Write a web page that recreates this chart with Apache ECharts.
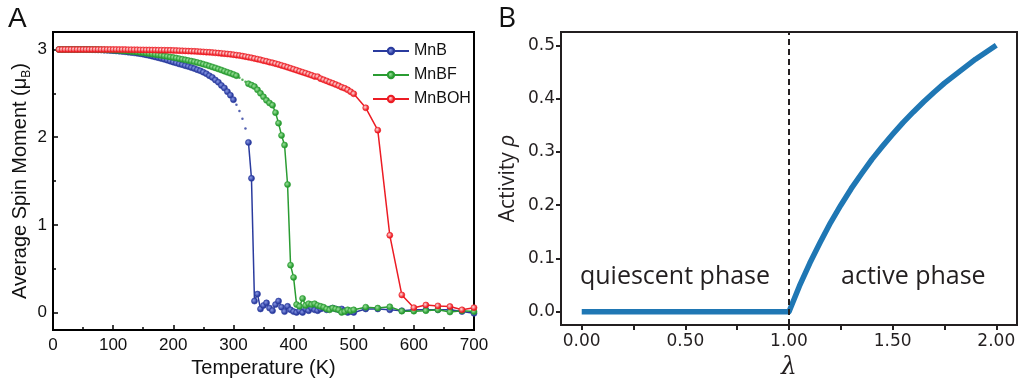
<!DOCTYPE html>
<html><head><meta charset="utf-8">
<script src="https://cdn.jsdelivr.net/npm/echarts@6/dist/echarts.min.js"></script>
<style>html,body{margin:0;padding:0;background:#fff}#c{width:1019px;height:385px}</style>
</head><body><div id="c"></div>
<script>
// ---------- Panel A data ----------
const temperatures = [
 10,15,20,25,30,35,40,45,50,55,60,65,70,75,80,85,90,95,100,105,110,115,120,125,130,135,140,145,150,155,
 160,165,170,175,180,185,190,195,200,205,210,215,220,225,230,235,240,245,250,255,260,265,270,275,280,285,
 290,295,300,305,310,315,320,325,330,335,340,345,350,355,360,365,370,375,380,385,390,395,400,405,410,415,
 420,425,430,435,440,445,450,455,460,465,470,475,480,485,490,495,500,
 520,540,560,580,600,620,640,660,680,700];
const mnB = [
 3.000,3.000,3.000,3.000,3.000,3.000,3.000,3.000,3.000,3.000,
 2.999,2.998,2.997,2.996,2.995,2.993,2.991,2.989,2.987,2.984,
 2.981,2.978,2.974,2.970,2.966,2.962,2.957,2.952,2.946,2.939,
 2.932,2.924,2.915,2.906,2.897,2.888,2.878,2.867,2.856,2.846,
 2.835,2.826,2.815,2.806,2.794,2.783,2.769,2.757,2.741,2.724,
 2.701,2.682,2.652,2.626,2.591,2.561,2.519,2.478,2.428,
 2.37,2.30,2.21,2.10,
 1.94,1.53,0.13,0.21,0.04,0.08,0.11,0.05,0.02,0.09,
 0.13,0.06,0.01,0.07,0.03,0.01,0.00,0.02,0.00,0.04,
 0.02,0.05,0.03,0.02,0.04,0.05,0.03,0.04,0.05,0.04,
 0.03,0.04,0.02,0.00,0.01,0.00,
 0.04,0.04,0.03,0.02,0.03,0.03,0.03,0.03,0.01,-0.01];
const mnBF = [
 3.000,3.000,3.000,3.000,3.000,3.000,3.000,3.000,3.000,3.000,3.000,3.000,3.000,
 2.999,2.998,2.997,2.996,2.995,2.993,2.991,2.989,2.987,2.984,
 2.981,2.978,2.975,2.971,2.967,2.963,2.958,2.953,2.948,2.943,
 2.938,2.933,2.927,2.921,2.915,2.909,2.903,2.896,2.889,2.882,
 2.875,2.868,2.860,2.852,2.843,2.833,2.823,2.812,2.801,2.790,
 2.778,2.766,2.753,2.740,2.728,2.716,
 2.702,2.678,2.655,2.632,
 2.610,2.594,2.577,2.540,2.500,2.460,2.420,2.390,2.365,2.280,
 2.160,2.020,1.910,1.460,0.540,0.400,0.090,0.070,0.160,0.080,
 0.100,0.090,0.100,0.080,0.070,0.060,0.040,0.030,0.050,0.040,
 0.030,0.000,0.010,0.030,0.020,0.030,
 0.060,0.050,0.065,0.015,0.015,0.020,0.030,0.005,0.020,0.010];
const mnBOH = [
 3.000,3.000,3.000,3.000,3.000,3.000,3.000,3.000,3.000,3.000,
 3.000,3.000,3.000,3.000,3.000,3.000,3.000,3.000,3.000,
 3.000,2.999,2.999,2.999,2.998,2.998,2.997,2.997,2.996,2.996,
 2.995,2.995,2.994,2.994,2.993,2.993,2.992,2.991,2.991,
 2.990,2.988,2.987,2.985,2.984,2.982,2.981,2.979,2.977,2.975,
 2.973,2.970,2.968,2.965,2.962,2.959,2.956,2.953,2.949,2.945,
 2.941,2.936,2.931,2.925,2.919,2.912,2.905,2.897,2.890,2.882,
 2.873,2.865,2.856,2.848,2.839,2.829,2.819,2.808,2.797,2.786,
 2.775,2.764,2.752,2.741,2.730,2.718,2.706,2.693,2.690,2.668,
 2.655,2.642,2.628,2.615,2.601,2.587,2.570,2.558,2.540,2.518,
 2.495,
 2.335,2.080,0.880,0.200,0.055,0.085,0.075,0.068,0.030,0.055];
const seriesNamesA = ['MnB','MnBF','MnBOH'];
const tempTicksA = [0,100,200,300,400,500,600,700];
const momentTicks = [0,1,2,3];
const momentMinorTicks = [0.5,1.5,2.5];

// ---------- Panel B data ----------
const lambdaVals = [0.00,1.00,1.05,1.10,1.15,1.20,1.25,1.30,1.35,1.40,1.45,1.50,1.55,1.60,1.65,1.70,1.75,1.80,1.85,1.90,1.95,2.00];
const rhoVals    = [0.000,0.000,0.048,0.091,0.130,0.167,0.200,0.231,0.259,0.286,0.310,0.333,0.355,0.375,0.394,0.412,0.429,0.444,0.459,0.474,0.487,0.500];
const lambdaTicks = [0,0.25,0.5,0.75,1,1.25,1.5,1.75,2];
const lambdaLabels = [0,0.5,1,1.5,2];
const rhoTicks = [0,0.1,0.2,0.3,0.4,0.5];
const criticalLambda = 1;
const phaseLabels = ['quiescent phase','active phase'];
const phaseLabelPos = [[0.45,0.066],[1.60,0.066]];

// ---------- build ----------
const colorsA = {MnB:'#2a3b9e', MnBF:'#2a9c32', MnBOH:'#ec1c24'};
const lightA = {MnB:'#8898e6', MnBF:'#9be29b', MnBOH:'#ffe0e0'};
const dotRange = {MnB:[302,322], MnBF:[307,322], MnBOH:[0,0]};
const valsA = {MnB:mnB, MnBF:mnBF, MnBOH:mnBOH};
function ball(name){
  return {type:'radial', x:0.4, y:0.4, r:0.6, colorStops:[{offset:0,color:lightA[name]},{offset:0.75,color:colorsA[name]},{offset:1,color:colorsA[name]}]};
}
const seriesA = [];
seriesNamesA.forEach(n=>{
  const r = dotRange[n];
  const lineData = temperatures.map((t,i)=> (t>=r[0]&&t<=r[1]) ? [t,'-'] : [t, valsA[n][i]]);
  const dotData = temperatures.map((t,i)=> [t, valsA[n][i]]).filter(p=>p[0]>=r[0]&&p[0]<=r[1]);
  seriesA.push({
    name:n, type:'line', xAxisIndex:0, yAxisIndex:0, data:lineData, connectNulls:false,
    symbol:'circle', symbolSize:6, showAllSymbol:true,
    lineStyle:{color:colorsA[n], width:1.5},
    itemStyle:{color:ball(n), borderColor:colorsA[n], borderWidth:0.6},
    animation:false
  });
  if(dotData.length){
    seriesA.push({
      name:n, type:'scatter', xAxisIndex:0, yAxisIndex:0, data:dotData,
      symbol:'circle', symbolSize:2.5, itemStyle:{color:colorsA[n]}, animation:false
    });
  }
});

const dark = '#231f20';
const option = {
  animation:false,
  graphic:[
    {type:'text', left:8, top:5, style:{text:'A', font:'28px "Liberation Sans", Arial', fill:'#111'}},
    {type:'text', left:498, top:5, style:{text:'B', font:'28px "Open Sans", "Noto Sans"', fill:'#111'}}
  ],
  legend:{
    data:seriesNamesA, orient:'vertical', left:367, top:38, itemWidth:36, itemHeight:8, itemGap:8,
    selectedMode:false, textStyle:{fontSize:16, fontFamily:'"Liberation Sans", Arial', color:'#111'}
  },
  grid:[
    {left:53, top:32, width:421, height:298, show:true, borderColor:'#000', borderWidth:2, backgroundColor:'transparent'},
    {left:561, top:32, width:456, height:297, show:true, borderColor:dark, borderWidth:2, backgroundColor:'transparent'}
  ],
  xAxis:[
    {gridIndex:0, type:'value', min:0, max:700, interval:100,
     axisLine:{show:true, onZero:false, lineStyle:{color:'#000', width:2}},
     axisTick:{show:true, inside:true, length:5, lineStyle:{color:'#000', width:1.5}},
     minorTick:{show:true, splitNumber:2, length:3, lineStyle:{color:'#000', width:1.5}},
     splitLine:{show:false},
     axisLabel:{fontSize:17, fontFamily:'"Liberation Sans", Arial', color:'#111', margin:7,
       customValues:tempTicksA},
     name:'Temperature (K)', nameLocation:'middle', nameGap:27,
     nameTextStyle:{fontSize:20, fontFamily:'"Liberation Sans", Arial', color:'#111'}},
    {gridIndex:1, type:'value', min:-0.1, max:2.1,
     axisLine:{show:true, onZero:false, lineStyle:{color:dark, width:2}},
     axisTick:{show:true, inside:false, length:5, lineStyle:{color:dark, width:2}, customValues:lambdaTicks},
     splitLine:{show:false},
     axisLabel:{fontSize:17, fontFamily:'"DejaVu Sans"', color:dark, margin:8,
       customValues:lambdaLabels, formatter:v=>Number(v).toFixed(2)},
     name:'λ', nameLocation:'middle', nameGap:27,
     nameTextStyle:{fontSize:25, fontFamily:'"DejaVu Serif", "Open Sans"', fontStyle:'italic', color:dark}}
  ],
  yAxis:[
    {gridIndex:0, type:'value', min:-0.2, max:3.2,
     axisLine:{show:true, onZero:false, lineStyle:{color:'#000', width:2}},
     axisTick:{show:true, inside:true, length:5, lineStyle:{color:'#000', width:1.5}, customValues:momentTicks},
     splitLine:{show:false},
     axisLabel:{fontSize:17, fontFamily:'"Liberation Sans", Arial', color:'#111', margin:6, customValues:momentTicks},
     name:'Average Spin Moment (μ{sub|B})', nameLocation:'middle', nameGap:20,
     nameTextStyle:{fontSize:20, lineHeight:26, fontFamily:'"Liberation Sans", Arial', color:'#111',
       rich:{sub:{fontSize:12, lineHeight:12, verticalAlign:'bottom', fontFamily:'"Liberation Sans", Arial', color:'#111'}}}},
    {gridIndex:0, type:'value', min:-0.2, max:3.2, position:'left',
     axisLine:{show:false, onZero:false},
     axisTick:{show:true, inside:true, length:3, lineStyle:{color:'#000', width:1.5}, customValues:momentMinorTicks},
     splitLine:{show:false}, axisLabel:{show:false}},
    {gridIndex:1, type:'value', min:-0.025, max:0.525,
     axisLine:{show:true, onZero:false, lineStyle:{color:dark, width:2}},
     axisTick:{show:true, inside:false, length:5, lineStyle:{color:dark, width:2}, customValues:rhoTicks},
     splitLine:{show:false},
     axisLabel:{fontSize:17, fontFamily:'"DejaVu Sans"', color:dark, margin:6,
       customValues:rhoTicks, formatter:v=>Number(v).toFixed(1)},
     name:'Activity {i|ρ}', nameLocation:'middle', nameGap:42,
     nameTextStyle:{fontSize:21, fontFamily:'"Open Sans", "Noto Sans"', color:dark,
       rich:{i:{fontSize:21, fontStyle:'italic', fontFamily:'"Open Sans", "Noto Sans"', color:dark}}}}
  ],
  series: seriesA.concat([
    {name:'rho', type:'line', xAxisIndex:1, yAxisIndex:2, data:lambdaVals.map((l,i)=>[l,rhoVals[i]]),
     symbol:'none', smooth:false, lineStyle:{color:'#1f77b4', width:5.5, cap:'butt', join:'round'},
     markLine:{silent:true, symbol:['none','none'], label:{show:false},
       lineStyle:{color:dark, width:2, type:[6,4]}, data:[{xAxis:criticalLambda}]}, z:3}
  ])
};
const chart = echarts.init(document.getElementById('c'), null, {renderer:'canvas'});
chart.setOption(option);
// phase annotations positioned through the axes of panel B
const phaseGraphics = phaseLabels.map((txt,i)=>{
  const p = chart.convertToPixel({xAxisIndex:1, yAxisIndex:2}, phaseLabelPos[i]);
  return {type:'text', x:p[0], y:p[1], silent:true,
    style:{text:txt, font:'25px "Open Sans", "Noto Sans"', fill:dark, align:'center', verticalAlign:'middle'}};
});
chart.setOption({graphic: option.graphic.concat(phaseGraphics)});
</script></body></html>
